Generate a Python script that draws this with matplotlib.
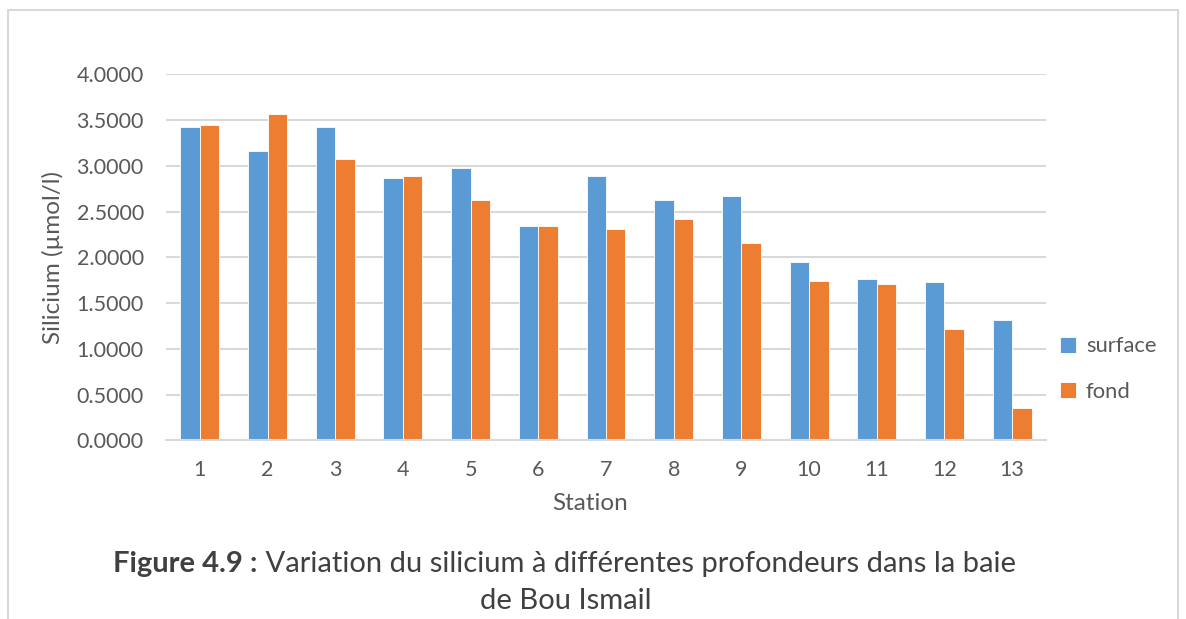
import numpy as np
import matplotlib.pyplot as plt
from matplotlib.patches import Rectangle

# Silicium par station (µmol/l)
stations = [str(i) for i in range(1, 14)]
surface = [3.424, 3.162, 3.427, 2.863, 2.979, 2.339, 2.889, 2.626, 2.667, 1.952, 1.766, 1.730, 1.318]
fond = [3.442, 3.563, 3.071, 2.889, 2.623, 2.339, 2.306, 2.419, 2.156, 1.744, 1.708, 1.220, 0.353]
yticks = [0.0, 0.5, 1.0, 1.5, 2.0, 2.5, 3.0, 3.5, 4.0]

BLUE = '#5B9BD5'
ORANGE = '#ED7D31'
GRID = '#D9D9D9'
TXT = '#595959'
W, H = 1186, 619

plt.rcParams['font.family'] = ['Lato', 'DejaVu Sans']

fig = plt.figure(figsize=(W / 100, H / 100), dpi=100)
ax = fig.add_axes([166 / W, 1 - 440.3 / H, 880 / W, 366 / H])

x = np.arange(len(stations))
w = 0.288
ax.bar(x - w / 2, surface, w, color=BLUE, edgecolor='white', linewidth=0.6, label='surface', zorder=3)
ax.bar(x + w / 2, fond, w, color=ORANGE, edgecolor='white', linewidth=0.6, label='fond', zorder=3)

ax.set_xlim(-0.5, len(stations) - 0.5)
ax.set_ylim(0, 4.0)
ax.set_yticks(yticks)
ax.set_yticklabels([f'{v:.4f}' for v in yticks])
ax.set_xticks(x)
ax.set_xticklabels(stations)
ax.tick_params(axis='both', length=0, labelsize=15.5, colors=TXT)
ax.tick_params(axis='y', pad=16)
ax.tick_params(axis='x', pad=14)

ax.grid(axis='y', color=GRID, linewidth=1.5, zorder=0)
for side in ['top', 'right', 'left']:
    ax.spines[side].set_visible(False)
ax.spines['bottom'].set_color(GRID)
ax.spines['bottom'].set_linewidth(1.5)
ax.spines['bottom'].set_zorder(4)

ax.set_ylabel('Silicium (µmol/l)', fontsize=17.5, color=TXT)
ax.yaxis.set_label_coords((53 - 166) / 880, 0.5)
ax.set_xlabel('Station', fontsize=17.5, color=TXT)
ax.xaxis.set_label_coords((590 - 166) / 880, (440.3 - 503) / 366)
ax.xaxis.label.set_va('center')
ax.yaxis.label.set_va('center')

ax.legend(loc='center left', bbox_to_anchor=(1064 / 880 - 166 / 880 - 0.005, (440.3 - 369) / 366),
          frameon=False, fontsize=15.8, labelcolor=TXT, handlelength=0.75, handleheight=0.75,
          handletextpad=0.45, labelspacing=1.15, borderaxespad=0, borderpad=0)

# cadre du graphique
fig.patches.append(Rectangle((8 / W, -0.1), 1170 / W, 1.1 - 10 / H,
                             transform=fig.transFigure, fill=False,
                             edgecolor=GRID, linewidth=1.5))

# légende de la figure
cap = '#404040'
ycap = 1 - 564 / H
t1 = fig.text(0.0, ycap, 'Figure 4.9 :', fontsize=21, fontweight='bold',
              color=cap, ha='left', va='center')
t2 = fig.text(0.0, ycap, ' Variation du silicium à différentes profondeurs dans la baie',
              fontsize=21, color=cap, ha='left', va='center')
fig.canvas.draw()
r = fig.canvas.get_renderer()
w1 = t1.get_window_extent(r).width
w2 = t2.get_window_extent(r).width
x0 = (564.5 - (w1 + w2) / 2) / W
t1.set_x(x0)
t2.set_x(x0 + w1 / W)
fig.text(566 / W, 1 - 601 / H, 'de Bou Ismail', fontsize=21, color=cap,
         ha='center', va='center')

fig.savefig('out.png', dpi=100)
